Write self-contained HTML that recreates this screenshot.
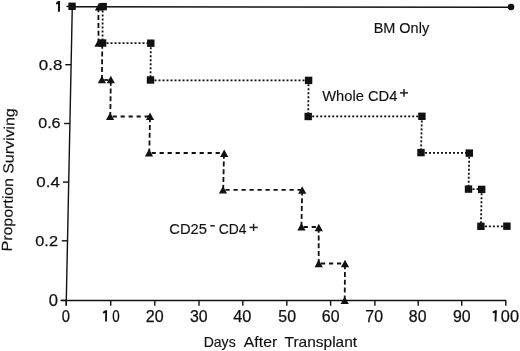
<!DOCTYPE html>
<html><head><meta charset="utf-8"><style>
html,body{margin:0;padding:0;background:#fff;}
body{width:520px;height:351px;overflow:hidden;}
svg{display:block;will-change:transform;}
text{font-family:"Liberation Sans",sans-serif;fill:#111;stroke:#111;stroke-width:0.25;}
text.w{stroke-width:0.15;}
.ax{stroke:#111;stroke-width:1.4;}
.solid{stroke:#111;stroke-width:1.6;}
.dot{stroke:#111;stroke-width:1.8;stroke-dasharray:2 2;}
.sup{stroke:#222;stroke-width:1.5;}
.one{fill:none;stroke:#111;stroke-width:2.1;stroke-linejoin:miter;}
.one1{fill:none;stroke:#111;stroke-width:1.8;}
.dash{stroke:#111;stroke-width:1.8;}
.dh{stroke-dasharray:4.2 3.8;stroke-dashoffset:5.7;}
.dv{stroke-dasharray:5 2.8;stroke-dashoffset:7.1;}
rect,polygon,circle{fill:#111;}
</style></head><body>
<svg width="520" height="351" viewBox="0 0 520 351">
<line x1="72.30" y1="6.30" x2="66.19" y2="305.60" class="ax"/>
<line x1="61.40" y1="300.50" x2="506.20" y2="300.50" class="ax"/>
<line x1="66.50" y1="6.40" x2="72.30" y2="6.40" class="ax"/>
<line x1="65.31" y1="64.70" x2="71.11" y2="64.70" class="ax"/>
<line x1="64.11" y1="123.50" x2="69.91" y2="123.50" class="ax"/>
<line x1="62.91" y1="182.10" x2="68.71" y2="182.10" class="ax"/>
<line x1="61.72" y1="240.80" x2="67.52" y2="240.80" class="ax"/>
<line x1="60.50" y1="300.40" x2="66.30" y2="300.40" class="ax"/>
<line x1="66.30" y1="300.50" x2="66.30" y2="305.80" class="ax"/>
<line x1="110.70" y1="300.50" x2="110.70" y2="305.80" class="ax"/>
<line x1="154.80" y1="300.50" x2="154.80" y2="305.80" class="ax"/>
<line x1="199.00" y1="300.50" x2="199.00" y2="305.80" class="ax"/>
<line x1="242.80" y1="300.50" x2="242.80" y2="305.80" class="ax"/>
<line x1="286.80" y1="300.50" x2="286.80" y2="305.80" class="ax"/>
<line x1="330.60" y1="300.50" x2="330.60" y2="305.80" class="ax"/>
<line x1="374.90" y1="300.50" x2="374.90" y2="305.80" class="ax"/>
<line x1="418.20" y1="300.50" x2="418.20" y2="305.80" class="ax"/>
<line x1="461.70" y1="300.50" x2="461.70" y2="305.80" class="ax"/>
<line x1="505.80" y1="300.50" x2="505.80" y2="305.80" class="ax"/>
<line x1="102.70" y1="6.60" x2="102.50" y2="43.20" class="dot"/>
<line x1="102.50" y1="43.20" x2="150.80" y2="43.20" class="dot"/>
<line x1="150.80" y1="43.20" x2="150.50" y2="80.30" class="dot"/>
<line x1="150.50" y1="80.30" x2="308.60" y2="80.30" class="dot"/>
<line x1="308.60" y1="80.30" x2="308.20" y2="116.40" class="dot"/>
<line x1="308.20" y1="116.40" x2="421.90" y2="116.40" class="dot"/>
<line x1="421.90" y1="116.40" x2="421.00" y2="152.80" class="dot"/>
<line x1="421.00" y1="152.80" x2="469.30" y2="152.80" class="dot"/>
<line x1="469.30" y1="152.80" x2="468.50" y2="189.20" class="dot"/>
<line x1="468.50" y1="189.20" x2="481.70" y2="189.20" class="dot"/>
<line x1="481.70" y1="189.20" x2="480.90" y2="226.30" class="dot"/>
<line x1="480.90" y1="226.30" x2="506.90" y2="226.30" class="dot"/>
<line x1="98.40" y1="6.60" x2="98.50" y2="43.00" class="dash dv"/>
<line x1="98.50" y1="43.00" x2="102.30" y2="43.00" class="dash dh"/>
<line x1="102.30" y1="43.00" x2="101.90" y2="80.00" class="dash dv"/>
<line x1="101.90" y1="80.00" x2="110.80" y2="80.00" class="dash dh"/>
<line x1="110.80" y1="80.00" x2="110.30" y2="116.50" class="dash dv"/>
<line x1="110.30" y1="116.50" x2="150.00" y2="116.50" class="dash dh"/>
<line x1="150.00" y1="116.50" x2="149.30" y2="153.00" class="dash dv"/>
<line x1="149.30" y1="153.00" x2="224.00" y2="153.00" class="dash dh"/>
<line x1="224.00" y1="153.00" x2="223.20" y2="189.80" class="dash dv"/>
<line x1="223.20" y1="189.80" x2="302.20" y2="189.80" class="dash dh"/>
<line x1="302.20" y1="189.80" x2="301.40" y2="227.00" class="dash dv"/>
<line x1="301.40" y1="227.00" x2="318.70" y2="227.00" class="dash dh"/>
<line x1="318.70" y1="227.00" x2="318.70" y2="263.50" class="dash dv"/>
<line x1="318.70" y1="263.50" x2="345.00" y2="263.50" class="dash dh"/>
<line x1="345.00" y1="263.50" x2="344.70" y2="300.30" class="dash dv"/>
<line x1="72.00" y1="6.70" x2="511.00" y2="7.30" class="solid"/>
<rect x="68.35" y="2.60" width="7.4" height="7.4"/>
<rect x="99.50" y="2.90" width="7.4" height="7.4"/>
<rect x="98.90" y="39.30" width="7.4" height="7.4"/>
<rect x="147.10" y="39.50" width="7.4" height="7.4"/>
<rect x="146.80" y="76.30" width="7.4" height="7.4"/>
<rect x="304.90" y="76.70" width="7.4" height="7.4"/>
<rect x="304.50" y="112.80" width="7.4" height="7.4"/>
<rect x="418.20" y="112.60" width="7.4" height="7.4"/>
<rect x="417.30" y="148.90" width="7.4" height="7.4"/>
<rect x="465.60" y="149.40" width="7.4" height="7.4"/>
<rect x="464.80" y="185.40" width="7.4" height="7.4"/>
<rect x="478.00" y="185.70" width="7.4" height="7.4"/>
<rect x="477.20" y="222.60" width="7.4" height="7.4"/>
<rect x="503.20" y="222.50" width="7.4" height="7.4"/>
<polygon points="99.00,2.80 103.10,10.40 94.90,10.40"/>
<polygon points="98.50,39.20 102.60,46.80 94.40,46.80"/>
<polygon points="101.90,75.70 106.00,83.30 97.80,83.30"/>
<polygon points="110.80,75.70 114.90,83.30 106.70,83.30"/>
<polygon points="110.10,112.40 114.20,120.00 106.00,120.00"/>
<polygon points="150.00,112.50 154.10,120.10 145.90,120.10"/>
<polygon points="149.00,149.00 153.10,156.60 144.90,156.60"/>
<polygon points="224.20,149.40 228.30,157.00 220.10,157.00"/>
<polygon points="223.00,185.90 227.10,193.50 218.90,193.50"/>
<polygon points="302.20,186.20 306.30,193.80 298.10,193.80"/>
<polygon points="301.40,223.00 305.50,230.60 297.30,230.60"/>
<polygon points="318.80,223.70 322.90,231.30 314.70,231.30"/>
<polygon points="318.70,259.60 322.80,267.20 314.60,267.20"/>
<polygon points="345.00,259.70 349.10,267.30 340.90,267.30"/>
<polygon points="344.70,296.50 348.80,304.10 340.60,304.10"/>
<circle cx="511" cy="7.05" r="3.3"/>
<text class="w" x="203.63" y="347.22" font-size="14.60" textLength="32.03" lengthAdjust="spacingAndGlyphs">Days</text>
<text class="w" x="243.80" y="347.22" font-size="14.60" textLength="33.40" lengthAdjust="spacingAndGlyphs">After</text>
<text class="w" x="284.50" y="347.22" font-size="14.60" textLength="72.66" lengthAdjust="spacingAndGlyphs">Transplant</text>
<text class="w" x="373.63" y="32.78" font-size="14.60" textLength="55.49" lengthAdjust="spacingAndGlyphs">BM Only</text>
<text class="w" x="322.26" y="100.96" font-size="14.80" textLength="75.16" lengthAdjust="spacingAndGlyphs">Whole CD4</text>
<text class="w" x="169.26" y="234.02" font-size="15.00" textLength="37.70" lengthAdjust="spacingAndGlyphs">CD25</text>
<text class="w" x="218.76" y="234.38" font-size="15.00" textLength="27.70" lengthAdjust="spacingAndGlyphs">CD4</text>
<text class="d" x="38.84" y="70.20" font-size="15.50" textLength="23.50" lengthAdjust="spacingAndGlyphs">0.8</text>
<text class="d" x="38.22" y="128.38" font-size="15.50" textLength="22.36" lengthAdjust="spacingAndGlyphs">0.6</text>
<text class="d" x="36.34" y="186.72" font-size="15.50" textLength="23.54" lengthAdjust="spacingAndGlyphs">0.4</text>
<text class="d" x="35.30" y="245.82" font-size="15.50" textLength="22.70" lengthAdjust="spacingAndGlyphs">0.2</text>
<text class="d" x="48.84" y="306.28" font-size="16.80" textLength="9.24" lengthAdjust="spacingAndGlyphs">0</text>
<text class="d" x="61.80" y="321.98" font-size="16.00" textLength="8.20" lengthAdjust="spacingAndGlyphs">0</text>
<text class="d" x="112.14" y="321.70" font-size="16.00" textLength="7.44" lengthAdjust="spacingAndGlyphs">0</text>
<text class="d" x="145.76" y="322.02" font-size="16.00" textLength="17.82" lengthAdjust="spacingAndGlyphs">20</text>
<text class="d" x="189.88" y="322.28" font-size="16.00" textLength="17.66" lengthAdjust="spacingAndGlyphs">30</text>
<text class="d" x="233.26" y="322.28" font-size="16.00" textLength="18.20" lengthAdjust="spacingAndGlyphs">40</text>
<text class="d" x="278.34" y="322.28" font-size="16.00" textLength="17.66" lengthAdjust="spacingAndGlyphs">50</text>
<text class="d" x="321.84" y="322.28" font-size="16.00" textLength="17.66" lengthAdjust="spacingAndGlyphs">60</text>
<text class="d" x="365.34" y="322.28" font-size="16.00" textLength="17.66" lengthAdjust="spacingAndGlyphs">70</text>
<text class="d" x="408.80" y="322.28" font-size="16.00" textLength="17.66" lengthAdjust="spacingAndGlyphs">80</text>
<text class="d" x="452.88" y="322.28" font-size="16.00" textLength="17.66" lengthAdjust="spacingAndGlyphs">90</text>
<text class="d" x="500.84" y="322.18" font-size="16.00" textLength="18.16" lengthAdjust="spacingAndGlyphs">00</text>
<polygon points="57.9,1.0 60.1,1.0 59.9,11.8 57.9,11.8 58.0,4.0 56.3,4.6 55.9,3.1"/>
<polygon points="105.3,310.3 107.1,310.3 106.9,321.6 105.1,321.6 105.2,313.0 103.1,313.5 102.7,312.0"/>
<polygon points="495.0,310.2 496.9,310.2 496.4,321.4 494.6,321.4 494.8,313.0 492.9,313.3 492.5,311.8"/>
<line x1="400.00" y1="92.90" x2="408.00" y2="92.90" class="sup"/>
<line x1="404.00" y1="89.00" x2="404.00" y2="96.80" class="sup"/>
<line x1="210.20" y1="225.80" x2="214.80" y2="225.80" class="sup"/>
<line x1="249.40" y1="227.40" x2="257.80" y2="227.40" class="sup"/>
<line x1="253.60" y1="223.80" x2="253.60" y2="231.00" class="sup"/>
<text class="w" transform="translate(11.7,251.4) rotate(-88.83)" font-size="14.5" textLength="143" lengthAdjust="spacingAndGlyphs">Proportion Surviving</text>
</svg>
</body></html>
